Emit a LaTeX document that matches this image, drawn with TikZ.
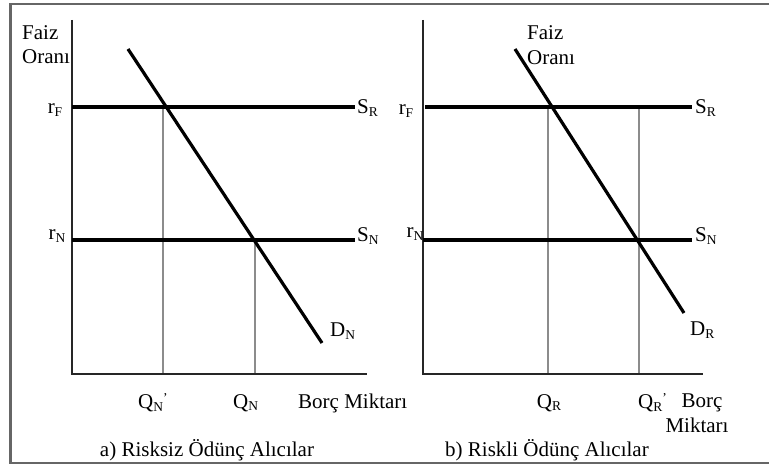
\documentclass[tikz,border=0pt]{standalone}
\usepackage{fontspec}
\setmainfont{Liberation Serif}
\newcommand{\sbs}[1]{\raisebox{-0.12em}{\fontsize{13.5}{13.5}\selectfont #1}}
\newcommand{\sps}[1]{\raisebox{0.3em}{\fontsize{13.5}{13.5}\selectfont #1}}
\begin{document}
\begin{tikzpicture}[x=1pt,y=-1pt,
  lbl/.style={inner sep=0pt,font=\fontsize{21}{23}\selectfont},
  axisline/.style={line width=1.8pt,black!85},
  curve/.style={line width=3.2pt,black},
  guide/.style={line width=1.4pt,black!45},
  frameline/.style={line width=2.4pt,black!60}]
\useasboundingbox (0,0) rectangle (769,468);
% frame
\coordinate (f1) at (769,4);
\coordinate (f2) at (10.5,4);
\coordinate (f3) at (10.5,463);
\coordinate (f4) at (769,463);
\draw[frameline] (f1) -- (f2) -- (f3) -- (f4);

% ---------- left panel ----------
\coordinate (aTop) at (72,20);
\coordinate (aO) at (72,374);
\coordinate (aX) at (367,374);
\coordinate (aF0) at (72,107);
\coordinate (aF1) at (355,107);
\coordinate (aN0) at (72,240);
\coordinate (aN1) at (355,240);
\coordinate (aD0) at (128,49);
\coordinate (aD1) at (322,343);
\coordinate (aV1t) at (163,107);
\coordinate (aV1b) at (163,374);
\coordinate (aV2t) at (255,240);
\coordinate (aV2b) at (255,374);

\draw[guide] (aV1t) -- (aV1b);
\draw[guide] (aV2t) -- (aV2b);
\draw[axisline] (aTop) -- (aO) -- (aX);
\draw[curve] (aF0) -- (aF1);
\draw[curve] (aN0) -- (aN1);
\draw[curve] (aD0) -- (aD1);

\node[lbl,anchor=west] (aFaiz) at (22,33) {Faiz};
\node[lbl,anchor=west] (aOrani) at (22,57) {Oranı};
\node[lbl] (arF) at (55,110) {r\sbs{F}};
\node[lbl] (arN) at (57,236) {r\sbs{N}};
\node[lbl,anchor=west] (aSR) at (357,108) {S\sbs{R}};
\node[lbl,anchor=west] (aSN) at (357,236) {S\sbs{N}};
\node[lbl,anchor=west] (aDN) at (330,331) {D\sbs{N}};
\node[lbl,anchor=west] (aQN2) at (138,403) {Q\sbs{N}\sps{’}};
\node[lbl,anchor=west] (aQN) at (233,403) {Q\sbs{N}};
\node[lbl,anchor=west] (aBorc) at (298,403) {Borç Miktarı};
\node[lbl] (aCap) at (207,450) {a) Risksiz Ödünç Alıcılar};

% ---------- right panel ----------
\coordinate (bTop) at (423,20);
\coordinate (bO) at (423,374);
\coordinate (bX) at (703,374);
\coordinate (bF0) at (425,107);
\coordinate (bF1) at (692,107);
\coordinate (bN0) at (423,240);
\coordinate (bN1) at (692,240);
\coordinate (bD0) at (515,49);
\coordinate (bD1) at (684,313);
\coordinate (bV1t) at (548,107);
\coordinate (bV1b) at (548,374);
\coordinate (bV2t) at (639,107);
\coordinate (bV2b) at (639,374);

\draw[guide] (bV1t) -- (bV1b);
\draw[guide] (bV2t) -- (bV2b);
\draw[axisline] (bTop) -- (bO) -- (bX);
\draw[curve] (bF0) -- (bF1);
\draw[curve] (bN0) -- (bN1);
\draw[curve] (bD0) -- (bD1);

\node[lbl,anchor=west] (bFaiz) at (527,33) {Faiz};
\node[lbl,anchor=west] (bOrani) at (527,58) {Oranı};
\node[lbl] (brF) at (406,111) {r\sbs{F}};
\node[lbl] (brN) at (415,234) {r\sbs{N}};
\node[lbl,anchor=west] (bSR) at (695,108) {S\sbs{R}};
\node[lbl,anchor=west] (bSN) at (695,236) {S\sbs{N}};
\node[lbl,anchor=west] (bDR) at (690,330) {D\sbs{R}};
\node[lbl] (bQR) at (549,403) {Q\sbs{R}};
\node[lbl,anchor=west] (bQR2) at (638,403) {Q\sbs{R}\sps{’}};
\node[lbl] (bBorc) at (702,403) {Borç};
\node[lbl] (bMiktari) at (697,425) {Miktarı};
\node[lbl] (bCap) at (547,450) {b) Riskli Ödünç Alıcılar};
\end{tikzpicture}
\end{document}
